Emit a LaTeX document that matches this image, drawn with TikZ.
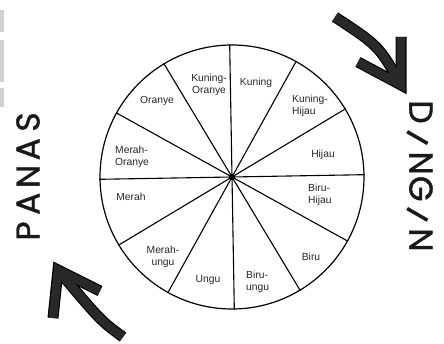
\documentclass[tikz,border=0pt]{standalone}
\usepackage{fontspec}
\setmainfont{Liberation Sans}
\newfontfamily\bigfont[FakeBold=1.2]{Poppins}
\newcommand\lp[1]{\makebox[27.25pt]{#1}}
\newcommand\ld[1]{\makebox[25.6pt]{#1}}
\tikzset{
  lbl/.style={inner sep=0pt, font=\fontsize{10.3}{12}\selectfont, text=black!85},
  big/.style={inner sep=0pt, font=\bigfont\fontsize{33}{36}\selectfont, text=black!90},
  arrowout/.style={line width=11pt, draw=black, line join=miter, line cap=butt},
  arrowin/.style={line width=8.6pt, draw=black!84, line join=miter, line cap=butt},
  scanbar/.style={fill=black!18, draw=none}
}
\begin{document}
\begin{tikzpicture}[x=1pt,y=1pt]
\useasboundingbox (0,0) rectangle (444,344);
\fill[white] (0,0) rectangle (444,344);
% scan bars at left edge
\fill[scanbar] (0,312) rectangle (4,334);
\fill[scanbar] (0,262) rectangle (4,304);
\fill[scanbar] (0,237) rectangle (4,256);
% wheel
\coordinate (c) at (232,167);
\node[circle, draw, line width=1.2pt, minimum size=264pt, inner sep=0pt] (wheel) at (c) {};
\foreach \a in {1,31,...,331} \draw[line width=1.1pt] (c) -- (wheel.\a);
\fill (c) circle (3pt);
% labels
\node[lbl, align=center] (ko) at (209,259) {Kuning-\\Oranye};
\node[lbl] (ku) at (256,261) {Kuning};
\node[lbl, align=left, anchor=west] (kh) at (292,238) {Kuning-\\Hijau};
\node[lbl] (hi) at (323,189) {Hijau};
\node[lbl, align=left, anchor=west] (bh) at (308,149) {Biru-\\Hijau};
\node[lbl] (bi) at (311,87) {Biru};
\node[lbl, align=left, anchor=west] (bu) at (246,62) {Biru-\\ungu};
\node[lbl] (un) at (208,64) {Ungu};
\node[lbl, align=center] (mu) at (163,87) {Merah-\\ungu};
\node[lbl] (me) at (131,147) {Merah};
\node[lbl, align=left, anchor=west] (mo) at (115,187) {Merah-\\Oranye};
\node[lbl] (or) at (157,243) {Oranye};
% side words
\node[big, rotate=90] (panas) at (28,167.5) {\lp{P}\lp{A}\lp{N}\lp{A}\lp{S}};
\node[big, rotate=-90] (dingin) at (419,168) {\ld{D}\ld{\rotatebox{-30}{I}}\ld{N}\ld{G}\ld{\rotatebox{-30}{I}}\ld{N}};
% arrows
\coordinate (t0) at (335,327);
\coordinate (tv) at (401,259);
\coordinate (ta) at (358,282);
\coordinate (tb) at (401,307);
\coordinate (b0) at (123,7);
\coordinate (bv) at (58,74);
\coordinate (ba) at (53,26);
\coordinate (bb) at (100,53);
\draw[arrowout] (t0) .. controls (379,298) .. (tv);
\draw[arrowout] (ta) -- (tv) -- (tb);
\draw[arrowout] (bv) .. controls (101,23) .. (b0);
\draw[arrowout] (ba) -- (bv) -- (bb);
\draw[arrowin] (t0) .. controls (379,298) .. (tv);
\draw[arrowin] (ta) -- (tv) -- (tb);
\draw[arrowin] (bv) .. controls (101,23) .. (b0);
\draw[arrowin] (ba) -- (bv) -- (bb);
\end{tikzpicture}
\end{document}
